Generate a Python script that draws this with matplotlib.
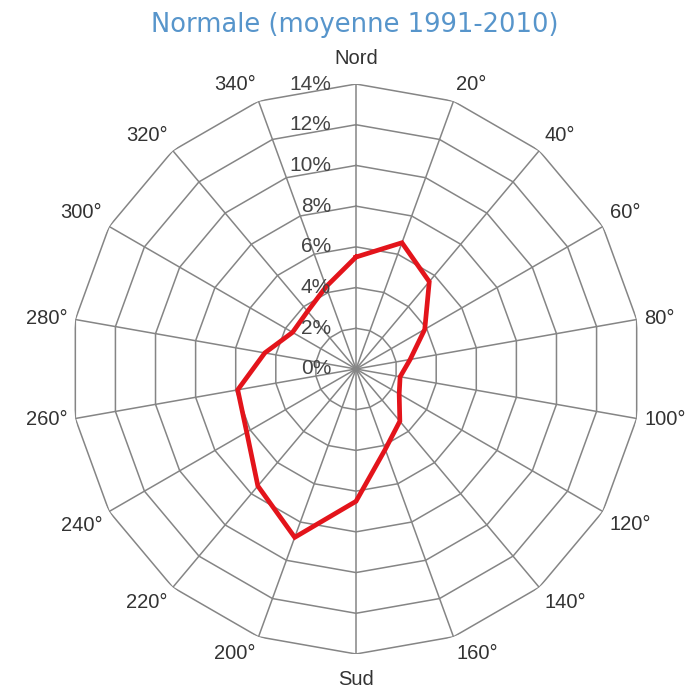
import numpy as np
import matplotlib
matplotlib.use("Agg")
import matplotlib.pyplot as plt

# direction du vent (degres) et frequence (%)
directions = [0, 20, 40, 60, 80, 100, 120, 140, 160, 180, 200, 220, 240, 260, 280, 300, 320, 340]
frequences = [5.5, 6.6, 5.6, 3.9, 2.7, 2.2, 2.45, 3.35, 4.2, 6.5, 8.8, 7.5, 6.2, 5.9, 4.55, 3.6, 3.7, 4.3]
etiquettes = ["Nord", "20°", "40°", "60°", "80°", "100°", "120°", "140°", "160°", "Sud",
              "200°", "220°", "240°", "260°", "280°", "300°", "320°", "340°"]
anneaux = [2, 4, 6, 8, 10, 12, 14]
anneaux_lab = ["0%", "2%", "4%", "6%", "8%", "10%", "12%", "14%"]

titre = "Normale (moyenne 1991-2010)"

fig = plt.figure(figsize=(6.98, 6.90), dpi=100)
ax = fig.add_axes([71 / 698, 36 / 690, 570 / 698, 570 / 690], projection="polar")
ax.set_theta_zero_location("N")
ax.set_theta_direction(-1)
ax.set_ylim(0, 14)
ax.grid(False)
ax.spines["polar"].set_visible(False)
ax.set_xticks([])
ax.set_yticks([])
ax.patch.set_alpha(0)

theta = np.deg2rad(directions + [directions[0]])
gris = "#858585"

# grille en polygones
for r in anneaux:
    ax.plot(theta, [r] * len(theta), color=gris, lw=1.1, zorder=1)
for d in directions:
    ax.plot([np.deg2rad(d), np.deg2rad(d)], [0, anneaux[-1]], color=gris, lw=1.1, zorder=1)

# courbe
ax.plot(theta, frequences + [frequences[0]], color="#e3141b", lw=3.4, zorder=3, solid_joinstyle="miter")

# etiquettes des directions
for d, lab in zip(directions, etiquettes):
    s = np.sin(np.deg2rad(d))
    c = np.cos(np.deg2rad(d))
    off = 16 if lab in ("Nord", "Sud") else 8
    if s > 0.2:
        ha = "left"
    elif s < -0.2:
        ha = "right"
    else:
        ha = "center"
    if c > 0.2:
        va = "bottom"
    elif c < -0.2:
        va = "top"
    else:
        va = "center"
    ax.annotate(lab, xy=(np.deg2rad(d), anneaux[-1]), xytext=(off * s, off * c),
                textcoords="offset pixels", ha=ha, va=va, fontsize=14.5,
                family="Liberation Sans", color="#333333", annotation_clip=False)

# etiquettes des pourcentages
for i, lab in enumerate(anneaux_lab):
    ax.annotate(lab, xy=(0, 2 * i), xytext=(-25, 0), textcoords="offset pixels",
                ha="right", va="center", fontsize=15, family="Liberation Sans",
                color="#444444", zorder=4)

fig.text(355 / 698, 1 - 25 / 690, titre, ha="center", va="center", fontsize=18.5,
         family="DejaVu Sans", color="#5795cb")

plt.savefig("out.png", dpi=100)
